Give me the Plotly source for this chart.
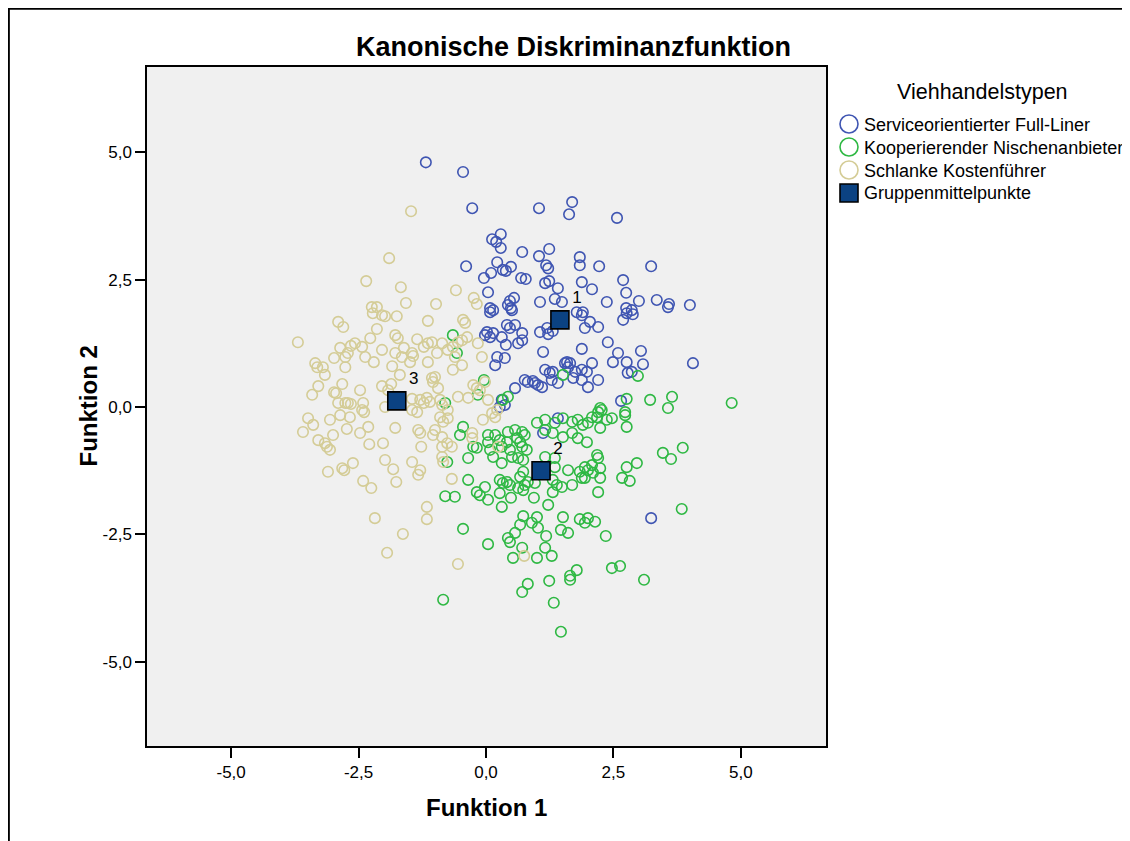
import plotly.graph_objects as go

# ---------------- data (discriminant scores) ----------------
blue_x = [-1.18, -0.45, -0.27, 1.04, 1.69, 1.63, 0.29, 0.12, 0.20, 0.29, 0.71, 1.04, 1.24, -0.39, 0.22, 1.18, 1.22, 1.84, 1.84,
          0.10, -0.04, 0.33, 0.49, 0.39, 0.69, 0.78, 1.16, 1.24, 1.41, 1.88, 0.04, 0.55, 0.47, 0.43, 0.49, 1.06, 1.35, 1.49, 0.08,
          2.57, 2.22, 3.24, 2.69, 2.08, 2.75, 2.37, 3.00, 3.35, 3.59, 3.57, 4.00, 2.75, 2.86,
          0.08, 0.14, 0.51, 1.88, 1.90, 1.78, 0.02, 0.08, 0.14, -0.02, 0.31, 0.41, 0.57, 0.47, 0.71, 0.71, 0.63, 0.39, 1.06, 1.20,
          1.22, 1.31, 1.12, 1.88, 0.22, 0.37, 0.18, 1.16, 1.25, 1.31, 1.55, 1.61, 1.59, 1.65, 1.75, 1.88, 1.71, 1.88, 1.41, 1.29,
          0.57, 0.76, 0.82, 0.92, 1.02, 1.10, 0.96, 0.31, 0.37, 0.27, 1.41, 1.12,
          2.04, 2.20, 1.94, 2.69, 2.76, 2.88, 2.39, 2.59, 2.49, 2.76, 3.04, 3.08, 2.78, 2.86, 2.08, 1.98, 2.00, 2.20, 4.06, 2.65, 3.24]
blue_y = [4.80, 4.61, 3.90, 3.90, 4.02, 3.78, 3.39, 3.29, 3.24, 3.12, 3.04, 2.96, 3.10, 2.76, 2.84, 2.78, 2.72, 2.94, 2.78,
          2.63, 2.53, 2.69, 2.75, 2.67, 2.53, 2.51, 2.43, 2.47, 2.33, 2.45, 2.25, 2.14, 2.08, 2.00, 1.94, 2.06, 2.12, 2.06, 1.94,
          3.71, 2.76, 2.76, 2.49, 2.31, 2.24, 2.06, 2.08, 2.10, 2.02, 1.96, 2.00, 1.94, 1.90,
          1.86, 1.90, 1.90, 1.80, 1.86, 1.86, 1.47, 1.37, 1.45, 1.41, 1.37, 1.61, 1.61, 1.55, 1.45, 1.31, 1.25, 1.22, 1.47, 1.55,
          1.43, 1.49, 1.08, 1.14, 0.98, 0.96, 0.82, 0.73, 0.67, 0.69, 0.86, 0.78, 0.88, 0.86, 0.69, 0.73, 0.57, 0.53, 0.47, 0.53,
          0.37, 0.53, 0.49, 0.51, 0.43, 0.39, 0.47, 0.14, 0.04, 0.00, -0.22, -0.51,
          1.67, 1.57, 1.55, 1.71, 1.84, 1.82, 1.27, 1.06, 0.88, 0.88, 1.10, 0.84, 0.67, 0.69, 0.86, 0.69, 0.39, 0.53, 0.86, 0.12, -2.18]

green_x = [-0.65, -0.57, 1.51, -0.04, -0.16, 0.43, 0.33, -0.80, -0.45, -0.51, 1.00, 1.16, 1.35, 1.51, 1.69, 1.80, 1.90, 1.16,
           1.31, 1.51, 1.69, 1.80, 0.04, 0.18, 0.43, 0.57, 0.71, 0.76, 0.04, 0.27, 0.41, 0.61, 0.67, 0.08, 0.31, 0.47, 0.71, 0.80,
           -0.25, -0.18, 0.14, 0.31, 0.51, 0.63, 0.73, -0.35, -0.76, 1.16, 1.35, 1.61, 1.84, 0.73, 1.35,
           2.98, 2.76, 3.22, 3.65, 3.57, 4.82, 2.24, 2.20, 2.27, 2.18, 2.08, 2.00, 2.24, 2.47, 2.37, 2.73, 2.73, 2.76, 1.98, 2.18,
           2.20, 2.08, 2.24, 2.00, 2.10, 1.94, 3.47, 3.63, 3.86, 2.76, 2.96,
           1.94, 2.24, 2.67, 2.82, 2.20, 2.00, 2.14, 1.94, 2.35, 3.84, 2.47, 2.63, 3.10,
           -0.35, 0.27, 0.33, 0.41, 0.47, 0.63, 0.73, 0.76, 0.67, 0.82, 0.96, 1.31, 1.39, 1.49, 1.69, 1.88, -0.80, -0.61, -0.18,
           -0.12, -0.02, 0.04, 0.27, 0.31, 0.49, 0.94, 1.22, 1.31, -0.45, 0.04, 0.73, 1.00, 0.90, 0.67, 1.02, 0.57, 0.43, 0.47,
           1.18, 1.47, 1.61, 1.51, 1.84, 0.71, 1.16, 1.29, 1.00, 0.53, 1.24, 1.65, 1.65, 1.78, 0.71, 0.82, -0.84, 1.33, 1.47]
green_y = [1.41, 1.06, 0.63, 0.53, 0.24, 0.20, 0.14, 0.08, -0.39, -0.55, -0.31, -0.25, -0.31, -0.22, -0.29, -0.25, -0.35, -0.45,
           -0.51, -0.59, -0.51, -0.61, -0.55, -0.55, -0.49, -0.45, -0.49, -0.55, -0.69, -0.65, -0.69, -0.61, -0.69, -0.84, -0.78,
           -0.84, -0.78, -0.84, -0.78, -0.80, -0.98, -1.10, -0.98, -1.00, -1.04, -1.00, -1.08, -0.98, -1.00, -1.24, -1.27, -1.27,
           -1.18,
           0.61, 0.16, 0.14, 0.20, -0.02, 0.08, -0.02, -0.10, -0.06, -0.20, -0.20, -0.31, -0.41, -0.22, -0.25, -0.10, -0.16, -0.39,
           -0.69, -0.94, -1.00, -1.14, -1.20, -1.24, -1.29, -1.18, -0.90, -1.02, -0.80, -1.18, -1.10,
           -1.39, -1.39, -1.39, -1.45, -1.67, -2.18, -2.25, -2.27, -2.53, -2.00, -3.16, -3.12, -3.39,
           -1.43, -1.43, -1.49, -1.47, -1.53, -1.59, -1.63, -1.53, -1.37, -1.47, -1.49, -1.43, -1.53, -1.57, -1.53, -1.39, -1.75,
           -1.76, -1.67, -1.73, -1.57, -1.82, -1.69, -1.96, -1.78, -1.78, -1.92, -1.67, -2.39, -2.69, -2.14, -2.16, -2.27, -2.31,
           -2.37, -2.47, -2.57, -2.65, -2.53, -2.41, -2.47, -2.16, -2.20, -2.76, -2.76, -2.92, -2.96, -2.96, -3.41, -3.31, -3.39,
           -3.20, -3.63, -3.47, -3.78, -3.84, -4.41]

tan_x = [-1.47, -1.90, -2.35, -1.67, -1.57, -2.24, -2.14, -0.98, -0.59, -0.24, -0.18,
         -2.22, -2.04, -1.98, -1.75, -1.14, -2.90, -2.80, -3.69, -2.14, -2.27, -1.78, -1.73, -1.35, -2.57, -2.65, -2.43, -2.86,
         -2.71, -2.04, -1.78, -1.61, -1.45, -1.43, -1.14, -1.06, -1.22, -2.98, -2.76, -2.37, -2.20, -3.35, -3.31, -3.20, -1.65,
         -1.49, -1.14, -2.76, -1.84, -3.16, -1.69, -1.06, -1.04, -3.29, -2.82, -3.41, -2.98, -2.94, -2.47, -2.04, -1.86, -1.92,
         -2.90, -2.76, -2.71, -2.65, -2.41, -2.43, -2.39, -1.98, -1.45, -1.29, -1.16, -1.22, -1.10, -1.35, -1.45, -3.06, -2.86,
         -2.67, -3.49, -3.39, -3.59, -2.31, -2.73, -2.47, -1.78, -1.33, -1.29, -1.04, -3.29, -3.16, -3.12, -3.06, -3.00, -2.29,
         -2.02, -1.27, -1.98, -1.45, -2.61, -2.82, -2.78, -3.10, -1.82, -1.29,
         -2.41, -2.25, -1.76, -1.33, -1.16, -1.16, -2.18, -1.63, -1.94,
         -0.41, -0.45, -0.86, -0.75, -0.65, -0.55, -0.47, -0.37, -0.16, -0.96, -0.61, -0.47, -0.65, -0.08, -1.00, -0.94, -0.90,
         -0.25, -0.18, -0.12, -0.02, -0.55, -0.35, 0.04, -0.86, -0.75, -0.90, -0.84, -0.75, -0.06, 0.12, 0.22, 0.18, -1.00,
         -0.86, -0.76, -0.86, -0.67, -0.27, -0.27, 0.24, -0.86, -0.84,
         -0.67, 0.75, -0.55]
tan_y = [3.84, 2.92, 2.47, 2.35, 2.04, 1.96, 1.96, 2.02, 2.29, 2.14, 2.02,
         1.84, 1.80, 1.78, 1.78, 1.69, 1.67, 1.57, 1.27, 1.53, 1.35, 1.41, 1.35, 1.33, 1.25, 1.20, 1.18, 1.16,
         1.06, 1.12, 1.06, 1.16, 1.06, 1.00, 1.25, 1.27, 1.18, 0.96, 0.98, 0.98, 0.88, 0.86, 0.78, 0.78, 0.98,
         0.88, 0.88, 0.78, 0.80, 0.63, 0.63, 0.57, 0.49, 0.41, 0.45, 0.24, 0.29, 0.27, 0.33, 0.41, 0.45, 0.33,
         0.08, 0.08, 0.08, 0.06, 0.08, -0.06, -0.10, 0.00, 0.16, 0.14, 0.18, 0.08, 0.10, -0.10, -0.06, -0.25, -0.16,
         -0.20, -0.22, -0.35, -0.49, -0.39, -0.43, -0.51, -0.41, -0.45, -0.51, -0.55, -0.65, -0.71, -0.78, -0.84, -0.55, -0.73,
         -0.71, -0.78, -1.04, -1.08, -1.10, -1.20, -1.24, -1.27, -1.22, -1.24,
         -1.45, -1.59, -1.47, -1.33, -1.96, -2.20, -2.18, -2.49, -2.86,
         1.65, 1.71, 1.25, 1.12, 1.18, 1.27, 1.31, 1.37, 1.25, 1.06, 0.98, 0.82, 0.73, 0.98, 0.59, 0.37, 0.14,
         0.43, 0.37, 0.33, 0.49, 0.20, 0.18, 0.14, 0.04, -0.06, -0.20, -0.29, -0.22, -0.25, -0.12, -0.06, -0.20, -0.45,
         -0.59, -0.71, -0.78, -0.78, -0.51, -0.61, -0.78, -0.98, -1.08,
         -1.41, -2.92, -3.08]

centroid_x = [1.45, 1.08, -1.75]
centroid_y = [1.71, -1.25, 0.12]
centroid_labels = ["1", "2", "3"]

group_names = ["Serviceorientierter Full-Liner", "Kooperierender Nischenanbieter", "Schlanke Kostenführer"]
tick_vals = [-5, -2.5, 0, 2.5, 5]
tick_text = ["-5,0", "-2,5", "0,0", "2,5", "5,0"]

# ---------------- styling ----------------
BLUE = "#3F55B2"
GREEN = "#2EB843"
TAN = "#D4CC96"
NAVY = "#0B4282"
FONT = "Liberation Sans, Arial, sans-serif"

OFF = 8  # page body margin: the figure starts 8 px in from the page corner
W, H = 1130 - OFF, 841 - OFF
# plot area in page pixels (as in the reference), converted to figure pixels
L, R, T, B = 147 - OFF, 826 - OFF, 67 - OFF, 746 - OFF
PW, PH = R - L, B - T


def px(xp):
    """page x pixel -> paper x"""
    return (xp - OFF - L) / PW


def py(yp):
    """page y pixel -> paper y"""
    return (B - (yp - OFF)) / PH


fig = go.Figure()
for xs, ys, col, name in [(blue_x, blue_y, BLUE, group_names[0]),
                          (green_x, green_y, GREEN, group_names[1]),
                          (tan_x, tan_y, TAN, group_names[2])]:
    fig.add_trace(go.Scatter(x=xs, y=ys, mode="markers", name=name, showlegend=False,
                             marker=dict(symbol="circle-open", size=10.5, color=col, line=dict(width=1.6, color=col))))

fig.add_trace(go.Scatter(x=centroid_x, y=centroid_y, mode="markers+text", name="Gruppenmittelpunkte",
                         showlegend=False, text=centroid_labels, textposition="top right",
                         textfont=dict(family=FONT, size=17, color="black"),
                         marker=dict(symbol="square", size=18, color=NAVY, line=dict(width=1.6, color="black"))))

axis_common = dict(range=[-6.65, 6.67], tickvals=tick_vals, ticktext=tick_text, ticks="outside", ticklen=10,
                   tickwidth=1.5, tickcolor="black", showline=True, mirror=True, linecolor="black", linewidth=1.5,
                   showgrid=False, zeroline=False, tickfont=dict(family=FONT, size=17, color="black"))

shapes = [
    # outer frame (left and top visible)
    dict(type="rect", xref="paper", yref="paper", x0=px(8.6), y0=py(8.6), x1=px(1140), y1=py(860),
         line=dict(color="black", width=2.5), layer="below"),
]
annotations = [
    dict(text="<b>Funktion 1</b>", xref="paper", yref="paper", x=0.5, y=py(808), showarrow=False,
         xanchor="center", yanchor="middle", font=dict(family=FONT, size=24, color="black")),
    dict(text="<b>Funktion 2</b>", xref="paper", yref="paper", x=px(88), y=0.5, showarrow=False, textangle=-90,
         xanchor="center", yanchor="middle", font=dict(family=FONT, size=24, color="black")),
    dict(text="<b>Kanonische Diskriminanzfunktion</b>", xref="paper", yref="paper", x=px(573), y=py(47),
         showarrow=False, xanchor="center", yanchor="middle", font=dict(family=FONT, size=27, color="black")),
    dict(text="Viehhandelstypen", xref="paper", yref="paper", x=px(982), y=py(92), showarrow=False,
         xanchor="center", yanchor="middle", font=dict(family=FONT, size=21.5, color="black")),
]

legend_rows = [(group_names[0], BLUE, 124), (group_names[1], GREEN, 147), (group_names[2], TAN, 170)]
for name, col, yc in legend_rows:
    shapes.append(dict(type="circle", xref="paper", yref="paper", x0=px(840), x1=px(858), y0=py(yc + 9),
                       y1=py(yc - 9), line=dict(color=col, width=1.6)))
    annotations.append(dict(text=name, xref="paper", yref="paper", x=px(862), y=py(yc + 1), showarrow=False,
                            xanchor="left", yanchor="middle", font=dict(family=FONT, size=18, color="black")))
shapes.append(dict(type="rect", xref="paper", yref="paper", x0=px(840), x1=px(858), y0=py(202), y1=py(184),
                   fillcolor=NAVY, line=dict(color="black", width=1.6)))
annotations.append(dict(text="Gruppenmittelpunkte", xref="paper", yref="paper", x=px(862), y=py(193),
                        showarrow=False, xanchor="left", yanchor="middle",
                        font=dict(family=FONT, size=18, color="black")))

fig.update_layout(
    width=W, height=H, autosize=False,
    margin=dict(l=L, r=W - R, t=T, b=H - B, pad=0),
    paper_bgcolor="white", plot_bgcolor="#F0F0F0",
    xaxis=axis_common, yaxis=axis_common,
    shapes=shapes, annotations=annotations,
    showlegend=False,
    font=dict(family=FONT, color="black"),
)

fig.write_html("out.html")
